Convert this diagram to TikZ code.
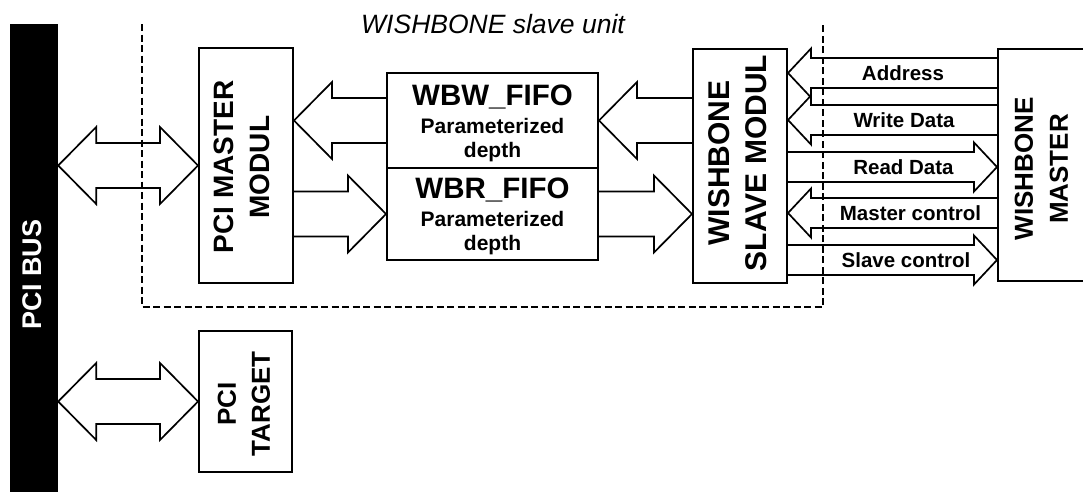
\documentclass[tikz,border=0pt]{standalone}
\usepackage{fontspec}
\setmainfont{Liberation Sans}
\usetikzlibrary{calc}
\newcommand\fs[2]{\fontsize{#1}{#2}\selectfont}
% single fat arrow: #1 tail, #2 tip, #3 shaft half width, #4 head half width, #5 head length
\newcommand\fatarrow[5]{%
  \draw[fat] let \p1=(#1), \p2=(#2), \n1={sign(\x2-\x1)} in
  (\x1,\y2+#3) -- ({\x2-\n1*#5},\y2+#3) -- ({\x2-\n1*#5},\y2+#4) -- (\x2,\y2)
  -- ({\x2-\n1*#5},\y2-#4) -- ({\x2-\n1*#5},\y2-#3) -- (\x1,\y2-#3);}
% double fat arrow: #1 left tip, #2 right tip
\newcommand\dblarrow[5]{%
  \draw[fat] let \p1=(#1), \p2=(#2) in
  (\x1,\y2) -- (\x1+#5,\y2+#4) -- (\x1+#5,\y2+#3) -- (\x2-#5,\y2+#3)
  -- (\x2-#5,\y2+#4) -- (\x2,\y2) -- (\x2-#5,\y2-#4) -- (\x2-#5,\y2-#3)
  -- (\x1+#5,\y2-#3) -- (\x1+#5,\y2-#4) -- cycle;}
\begin{document}
\begin{tikzpicture}[x=1pt,y=-1pt,
  box/.style={draw, line width=2pt, inner sep=0pt, align=center},
  vtext/.style={rotate=90, align=center, inner sep=0pt},
  fat/.style={draw, line width=1.7pt, line join=miter},
  lbl/.style={font=\bfseries\fs{20.5}{24}, inner sep=0pt},
  unitline/.style={line width=1.5pt, dash pattern=on 7pt off 3.5pt}]
\useasboundingbox (0,0) rectangle (1083,491);
\clip (0,0) rectangle (1083,491);

% PCI bus bar
\node[fill=black, inner sep=0pt, minimum width=48pt, minimum height=470pt] (bus) at (34,259) {};
\node[vtext, text=white, font=\bfseries\fs{27}{32}] (bustext) at (32.5,274.5) {PCI BUS};

% title and unit border
\node[inner sep=0pt, font=\itshape\fs{26.5}{30}] (title) at (493,24) {WISHBONE slave unit};
\draw[unitline] (142,24) -- (142,307) -- (823,307) -- (823,24);

% blocks
\node[box, minimum width=94pt, minimum height=235pt] (pm) at (246,165.5) {};
\node[vtext, font=\bfseries\fs{28}{36}] (pmtext) at (242,167) {PCI MASTER\\MODUL};

\node[box, minimum width=211pt, minimum height=95pt] (wbw) at (492.5,120.5) {};
\node[inner sep=0pt, align=center, font=\bfseries\fs{21}{24}] (wbwtext) at (492.5,123)
  {{\fs{29.5}{29}WBW\_FIFO}\\[4pt]Parameterized\\depth};
\node[box, minimum width=211pt, minimum height=92pt] (wbr) at (492.5,214) {};
\node[inner sep=0pt, align=center, font=\bfseries\fs{21}{24}] (wbrtext) at (492.5,216.5)
  {{\fs{29.5}{29}WBR\_FIFO}\\[4pt]Parameterized\\depth};

\node[box, minimum width=94pt, minimum height=234pt] (ws) at (740,166) {};
\node[vtext, font=\bfseries\fs{30}{37}] (wstext) at (737.5,163) {WISHBONE\\SLAVE MODUL};

\node[box, minimum width=88pt, minimum height=232pt] (wm) at (1042,165) {};
\node[vtext, font=\bfseries\fs{26}{35}] (wmtext) at (1041.5,169) {WISHBONE\\MASTER};

\node[box, minimum width=93pt, minimum height=141pt] (pt) at (245.5,401.5) {};
\node[vtext, font=\bfseries\fs{26}{34}] (pttext) at (244,404) {PCI\\TARGET};

% bus connections
\dblarrow{bus.east |- pm.west}{pm.west}{22.5pt}{38.5pt}{38pt}
\dblarrow{bus.east |- pt.west}{pt.west}{22.5pt}{38.5pt}{38pt}

% FIFO connections
\fatarrow{wbw.west}{pm.east |- wbw.west}{22.5pt}{38.5pt}{38pt}
\fatarrow{pm.east |- wbr.west}{wbr.west}{22.5pt}{38.5pt}{38pt}
\fatarrow{ws.west |- wbw.east}{wbw.east}{22.5pt}{38.5pt}{38pt}
\fatarrow{wbr.east}{ws.west |- wbr.east}{22.5pt}{38.5pt}{38pt}

% WISHBONE master signals
\coordinate (r1) at (0,73);
\coordinate (r2) at (0,120);
\coordinate (r3) at (0,167);
\coordinate (r4) at (0,213);
\coordinate (r5) at (0,260);
\fatarrow{wm.west |- r1}{ws.east |- r1}{15pt}{24.5pt}{23pt}
\fatarrow{wm.west |- r2}{ws.east |- r2}{15pt}{24.5pt}{23pt}
\fatarrow{ws.east |- r3}{wm.west |- r3}{15pt}{24.5pt}{23pt}
\fatarrow{wm.west |- r4}{ws.east |- r4}{15pt}{24.5pt}{23pt}
\fatarrow{ws.east |- r5}{wm.west |- r5}{15pt}{24.5pt}{23pt}

\node[lbl] (laddr) at (903,73) {Address};
\node[lbl] (lwd) at (904,120) {Write Data};
\node[lbl] (lrd) at (903.5,167) {Read Data};
\node[lbl] (lmc) at (910.5,213) {Master control};
\node[lbl] (lsc) at (906,260) {Slave control};
\end{tikzpicture}
\end{document}
